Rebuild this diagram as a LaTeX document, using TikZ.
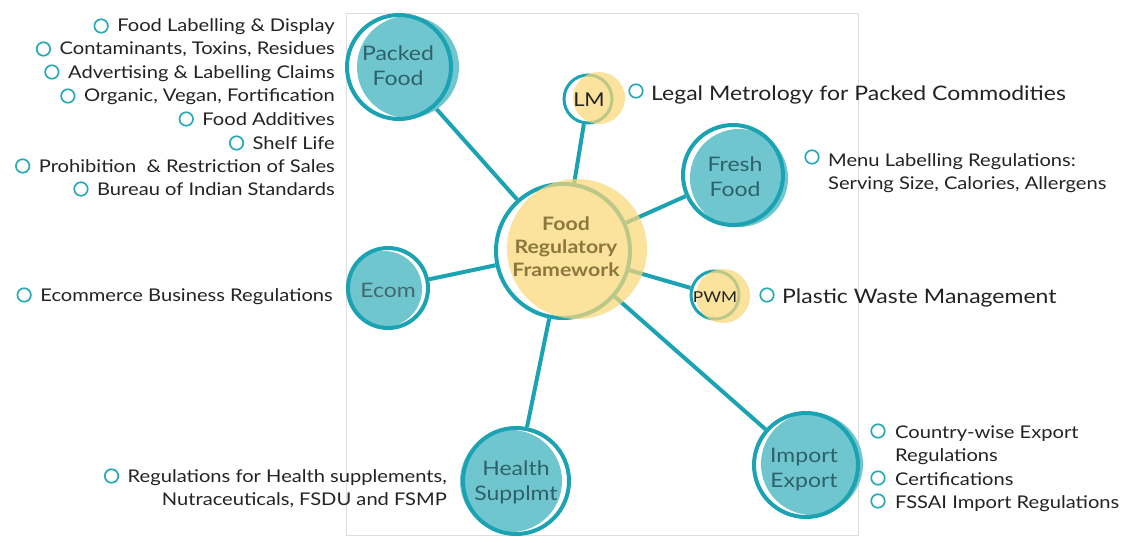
\documentclass[tikz,border=0pt]{standalone}
\usepackage{fontspec}
\setmainfont[FakeStretch=1.15]{Lato}
\usetikzlibrary{calc}
\definecolor{ringc}{RGB}{27,163,179}
\definecolor{tealfill}{RGB}{112,198,206}
\definecolor{yel}{RGB}{250,215,120}
\definecolor{ntext}{RGB}{45,98,106}
\definecolor{ctext}{RGB}{140,120,60}
\definecolor{btext}{RGB}{35,35,35}
\definecolor{framec}{RGB}{221,221,221}
\definecolor{bulc}{RGB}{40,170,182}
\pgfdeclarelayer{bg}\pgfdeclarelayer{wl}\pgfdeclarelayer{tl}\pgfdeclarelayer{yl}\pgfdeclarelayer{fg}
\pgfsetlayers{bg,wl,tl,main,yl,fg}
\begin{document}
\begin{tikzpicture}[x=1pt,y=-1pt,
  ringnode/.style={circle,draw=ringc,line width=#1,inner sep=0pt},
  conn/.style={draw=ringc,line width=4pt},
  ntxt/.style={align=center,text=ntext,font=\fontsize{20}{25}\selectfont,inner sep=0pt},
  ytxt/.style={text=btext,inner sep=0pt},
  ctxt/.style={align=center,text=ctext,font=\bfseries\fontsize{18.5}{23}\selectfont,inner sep=0pt},
  itm/.style={text=btext,font=\fontsize{17.5}{23.3}\selectfont,inner sep=0pt},
  bigitm/.style={text=btext,font=\fontsize{20}{25}\selectfont,inner sep=0pt},
  bullet/.style={circle,draw=bulc,line width=1.7pt,minimum size=13.5pt,inner sep=0pt},
]
\useasboundingbox (0,0) rectangle (1146,543);
\begin{pgfonlayer}{bg}
\fill[white] (0,0) rectangle (1146,543);
\draw[framec,line width=1pt] (346,14) rectangle (858,535);
\end{pgfonlayer}

% ---- ring nodes
\node[ringnode=4pt,minimum size=104pt] (pf) at (399,67) {};
\node[ringnode=3pt,minimum size=48pt] (lm) at (588,99) {};
\node[ringnode=4pt,minimum size=100pt] (ff) at (733,175) {};
\node[ringnode=4pt,minimum size=134pt] (fr) at (563,251) {};
\node[ringnode=3pt,minimum size=48pt] (pwm) at (715,295) {};
\node[ringnode=4pt,minimum size=80pt] (ec) at (388,288) {};
\node[ringnode=4pt,minimum size=106pt] (hs) at (516,481) {};
\node[ringnode=4pt,minimum size=104pt] (ie) at (806,465) {};

% ---- white interiors
\begin{pgfonlayer}{wl}
\foreach \n/\r in {pf/51,lm/23,ff/49,fr/66,pwm/23,ec/39,hs/52,ie/51}{\fill[white] (\n.center) circle (\r);}
\end{pgfonlayer}
% ---- teal fills
\begin{pgfonlayer}{tl}
\fill[tealfill] ($(pf.center)+(9,0)$) circle (51);
\fill[tealfill] ($(ff.center)+(6,3)$) circle (49);
\fill[tealfill] ($(ec.center)+(-4,1)$) circle (38);
\fill[tealfill] ($(hs.center)+(-5,0)$) circle (51);
\fill[tealfill] ($(ie.center)+(6,-1)$) circle (51);
\end{pgfonlayer}
% ---- yellow fills
\begin{pgfonlayer}{yl}
\fill[yel,opacity=0.72] ($(fr.center)+(14,-2)$) circle (70);
\fill[yel,opacity=0.72] ($(lm.center)+(11,-1)$) circle (26);
\fill[yel,opacity=0.72] ($(pwm.center)+(8,1)$) circle (27);
\end{pgfonlayer}

% ---- connectors
\begin{pgfonlayer}{bg}
\foreach \n in {pf,lm,ff,pwm,ec,hs,ie}{\path[conn] (fr) -- (\n);}
\end{pgfonlayer}

% ---- node texts
\begin{pgfonlayer}{fg}
\node[ntxt] (pf-t) at (398,66) {Packed\\Food};
\node[ntxt] (ff-t) at (735,177) {Fresh\\Food};
\node[ntxt,text=ntext!75!gray] (ec-t) at (388,290) {Ecom};
\node[ntxt] (hs-t) at (516,482) {Health\\Supplmt};
\node[ntxt] (ie-t) at (804,470) {Import\\Export};
\node[ytxt,font=\fontsize{19}{24}\selectfont] (lm-t) at (589,100) {LM};
\node[ytxt,font=\fontsize{15}{20}\selectfont] (pwm-t) at (715,297) {PWM};
\node[ctxt] (fr-t) at (566,247) {Food\\Regulatory\\Framework};
\end{pgfonlayer}

% ---- left list (Packed Food)
\foreach \nm/\yy/\tx in {l1/32/{Food Labelling \& Display},
  l2/55/{Contaminants, Toxins, Residues},
  l3/78/{Advertising \& Labelling Claims},
  l4/102/{Organic, Vegan, Fortification},
  l5/125/{Food Additives},
  l6/149/{Shelf Life},
  l7/172/{Prohibition \ \& Restriction of Sales},
  l8/195/{Bureau of Indian Standards}}{
  \node[itm,anchor=base east] (\nm) at (335,\yy) {\tx};
  \node[bullet] (\nm-b) at ([xshift=-16pt,yshift=6pt]\nm.base west) {};
}
% ecommerce
\node[itm,anchor=base east] (ecl) at (333,301) {Ecommerce Business Regulations};
\node[bullet] (ecl-b) at ([xshift=-16pt,yshift=6pt]ecl.base west) {};
% health
\node[itm,anchor=base east] (hsl1) at (447,482) {Regulations for Health supplements,};
\node[itm,anchor=base east] (hsl2) at (447,505) {Nutraceuticals, FSDU and FSMP};
\node[bullet] (hsl-b) at ([xshift=-16pt,yshift=6pt]hsl1.base west) {};

% ---- right side
\node[bullet] (lml-b) at (636,91) {};
\node[bigitm,anchor=base west] (lml) at (651,100) {Legal Metrology for Packed Commodities};
\node[bullet] (ffl-b) at (812,157) {};
\node[itm,anchor=base west] (ffl1) at (828,166) {Menu Labelling Regulations:};
\node[itm,anchor=base west] (ffl2) at (828,189) {Serving Size, Calories, Allergens};
\node[bullet] (pwl-b) at (767,295) {};
\node[bigitm,anchor=base west] (pwl) at (782,303) {Plastic Waste Management};
\node[bullet] (iel1-b) at (878,431) {};
\node[itm,anchor=base west] (iel1) at (895,438) {Country-wise Export};
\node[itm,anchor=base west] (iel1b) at (895,461) {Regulations};
\node[bullet] (iel2-b) at (878,478) {};
\node[itm,anchor=base west] (iel2) at (895,485) {Certifications};
\node[bullet] (iel3-b) at (878,501) {};
\node[itm,anchor=base west] (iel3) at (895,508) {FSSAI Import Regulations};
\end{tikzpicture}
\end{document}
